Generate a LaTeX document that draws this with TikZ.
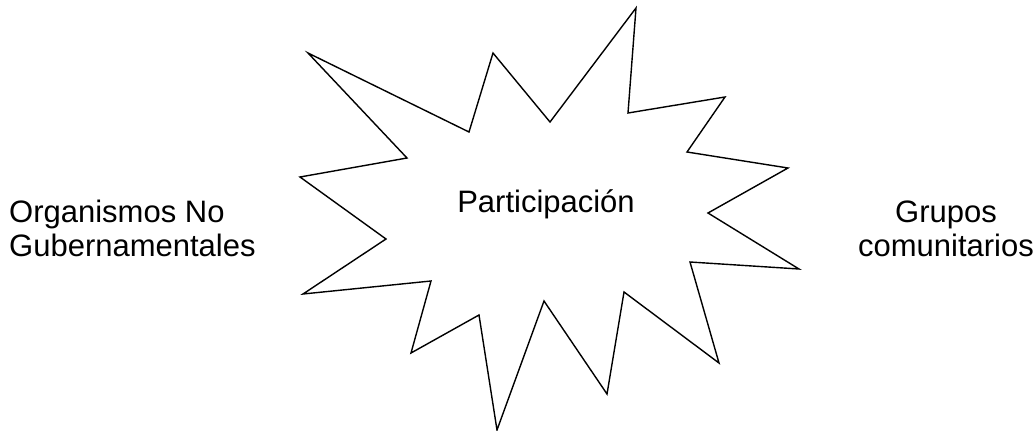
\documentclass[tikz,border=0pt]{standalone}
\usepackage{fontspec}
\setmainfont{Liberation Sans}
\usepackage{tikz}
\usetikzlibrary{positioning}
\tikzset{
  label text/.style={font=\fontsize{31}{34}\selectfont, inner sep=0pt},
  burst/.style={draw=black, line width=1.4pt, line join=miter, fill=white},
}

\begin{document}
\begin{tikzpicture}[x=1pt, y=-1pt]
  \useasboundingbox (0,0) rectangle (1034,431);
  % explosion shape
  \draw[burst] (308,53) -- (469,132) -- (493,53) -- (550,122) -- (636,8)
    -- (628,113) -- (725,97) -- (687,152) -- (788,168) -- (708,213)
    -- (799,269) -- (690,262) -- (719,363) -- (624,292) -- (607,394)
    -- (544,301) -- (497,430) -- (479,315) -- (411,353) -- (431,281)
    -- (303,294) -- (386,239) -- (300,177) -- (407,158) -- cycle;

  \node[label text, anchor=base] (part) at (546,212) {Participación};
  \node[label text, anchor=base west, align=left] (ong) at (9,256)
    {Organismos No\\Gubernamentales};
  \node[label text, anchor=base, align=center] (grupos) at (946,256)
    {Grupos\\comunitarios};
\end{tikzpicture}
\end{document}
